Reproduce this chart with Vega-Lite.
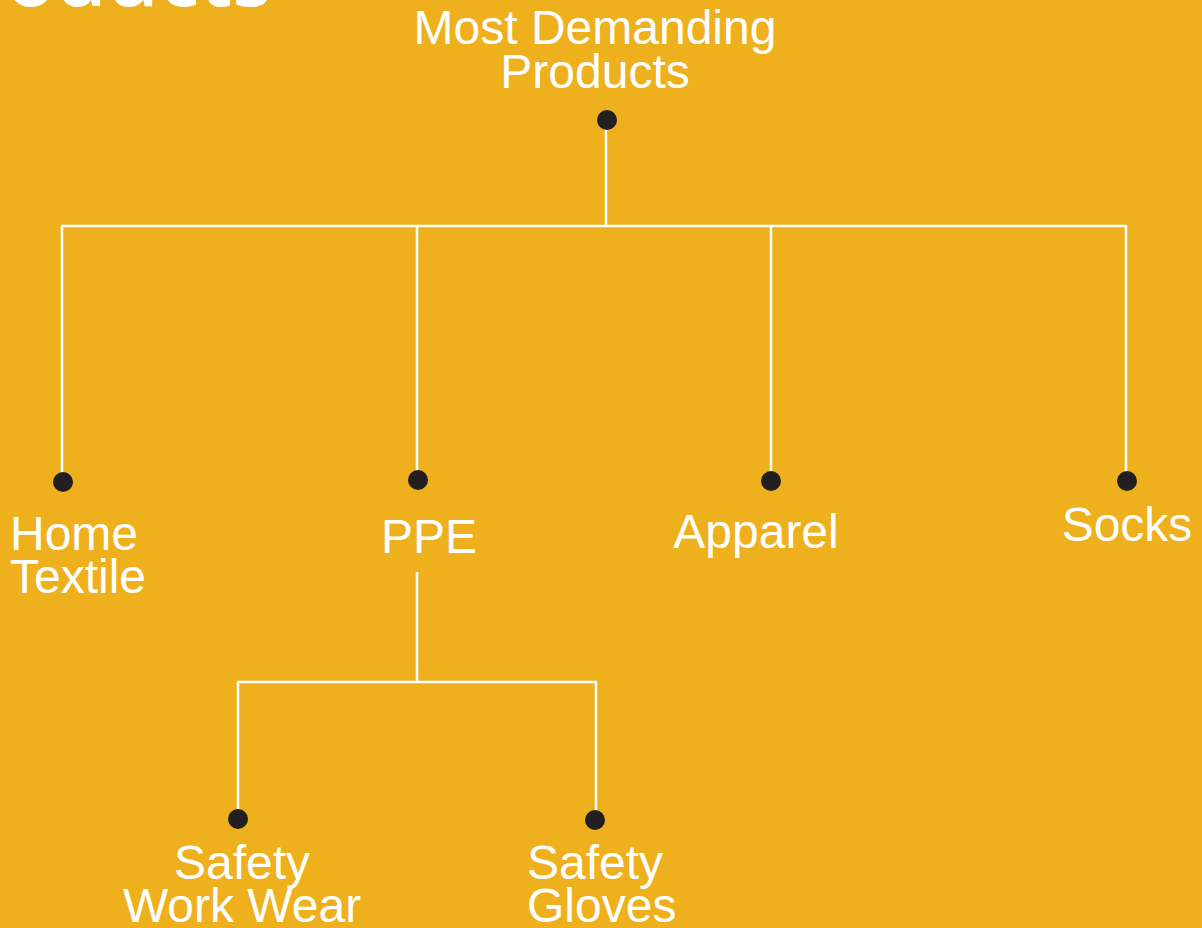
{
  "$schema": "https://vega.github.io/schema/vega-lite/v6.json",
  "width": 1202,
  "height": 928,
  "autosize": {"type": "none"},
  "padding": 0,
  "background": "#EFB01D",
  "config": {"view": {"stroke": null}},
  "datasets": {
    "edges": [
      {"xa": 606, "ya": 128, "xb": 606, "yb": 226},
      {"xa": 61, "ya": 226, "xb": 1127, "yb": 226},
      {"xa": 62, "ya": 226, "xb": 62, "yb": 480},
      {"xa": 417, "ya": 226, "xb": 417, "yb": 478},
      {"xa": 771, "ya": 226, "xb": 771, "yb": 479},
      {"xa": 1126, "ya": 226, "xb": 1126, "yb": 479},
      {"xa": 417, "ya": 572, "xb": 417, "yb": 682},
      {"xa": 237, "ya": 682, "xb": 597, "yb": 682},
      {"xa": 238, "ya": 682, "xb": 238, "yb": 817},
      {"xa": 596, "ya": 682, "xb": 596, "yb": 818}
    ],
    "nodes": [
      {"name": "Most Demanding Products", "x": 607, "y": 120},
      {"name": "Home Textile", "x": 63, "y": 482},
      {"name": "PPE", "x": 418, "y": 480},
      {"name": "Apparel", "x": 771, "y": 481},
      {"name": "Socks", "x": 1127, "y": 481},
      {"name": "Safety Work Wear", "x": 238, "y": 819},
      {"name": "Safety Gloves", "x": 595, "y": 820}
    ],
    "title": [
      {"label": "Most Demanding\nProducts", "x": 595, "y": 44}
    ],
    "centerLabels": [
      {"label": "PPE", "x": 429, "y": 553},
      {"label": "Apparel", "x": 756, "y": 548},
      {"label": "Socks", "x": 1127, "y": 541},
      {"label": "Safety\nWork Wear", "x": 242, "y": 879}
    ],
    "leftLabels": [
      {"label": "Home\nTextile", "x": 10, "y": 550},
      {"label": "Safety\nGloves", "x": 527, "y": 879}
    ],
    "heading": [
      {"label": "Products", "x": 272, "y": 6}
    ]
  },
  "layer": [
    {
      "data": {"name": "edges"},
      "mark": {"type": "rule", "stroke": "#FFFFFF", "strokeWidth": 2.5},
      "encoding": {
        "x": {"field": "xa", "type": "quantitative", "scale": {"domain": [0, 1202], "nice": false, "zero": false}, "axis": null},
        "x2": {"field": "xb"},
        "y": {"field": "ya", "type": "quantitative", "scale": {"domain": [0, 928], "nice": false, "zero": false, "reverse": true}, "axis": null},
        "y2": {"field": "yb"}
      }
    },
    {
      "data": {"name": "nodes"},
      "mark": {"type": "circle", "size": 400, "color": "#231F20", "opacity": 1},
      "encoding": {
        "x": {"field": "x", "type": "quantitative"},
        "y": {"field": "y", "type": "quantitative"}
      }
    },
    {
      "data": {"name": "title"},
      "mark": {"type": "text", "align": "center", "baseline": "alphabetic", "font": "Liberation Sans", "fontSize": 48, "lineHeight": 44, "lineBreak": "\n", "color": "#FFFFFF"},
      "encoding": {
        "x": {"field": "x", "type": "quantitative"},
        "y": {"field": "y", "type": "quantitative"},
        "text": {"field": "label", "type": "nominal"}
      }
    },
    {
      "data": {"name": "centerLabels"},
      "mark": {"type": "text", "align": "center", "baseline": "alphabetic", "font": "Liberation Sans", "fontSize": 48, "lineHeight": 43, "lineBreak": "\n", "color": "#FFFFFF"},
      "encoding": {
        "x": {"field": "x", "type": "quantitative"},
        "y": {"field": "y", "type": "quantitative"},
        "text": {"field": "label", "type": "nominal"}
      }
    },
    {
      "data": {"name": "leftLabels"},
      "mark": {"type": "text", "align": "left", "baseline": "alphabetic", "font": "Liberation Sans", "fontSize": 48, "lineHeight": 43, "lineBreak": "\n", "color": "#FFFFFF"},
      "encoding": {
        "x": {"field": "x", "type": "quantitative"},
        "y": {"field": "y", "type": "quantitative"},
        "text": {"field": "label", "type": "nominal"}
      }
    },
    {
      "data": {"name": "heading"},
      "mark": {"type": "text", "align": "right", "baseline": "alphabetic", "font": "Open Sans", "fontWeight": 600, "fontSize": 82, "color": "#FFFFFF"},
      "encoding": {
        "x": {"field": "x", "type": "quantitative"},
        "y": {"field": "y", "type": "quantitative"},
        "text": {"field": "label", "type": "nominal"}
      }
    }
  ]
}
